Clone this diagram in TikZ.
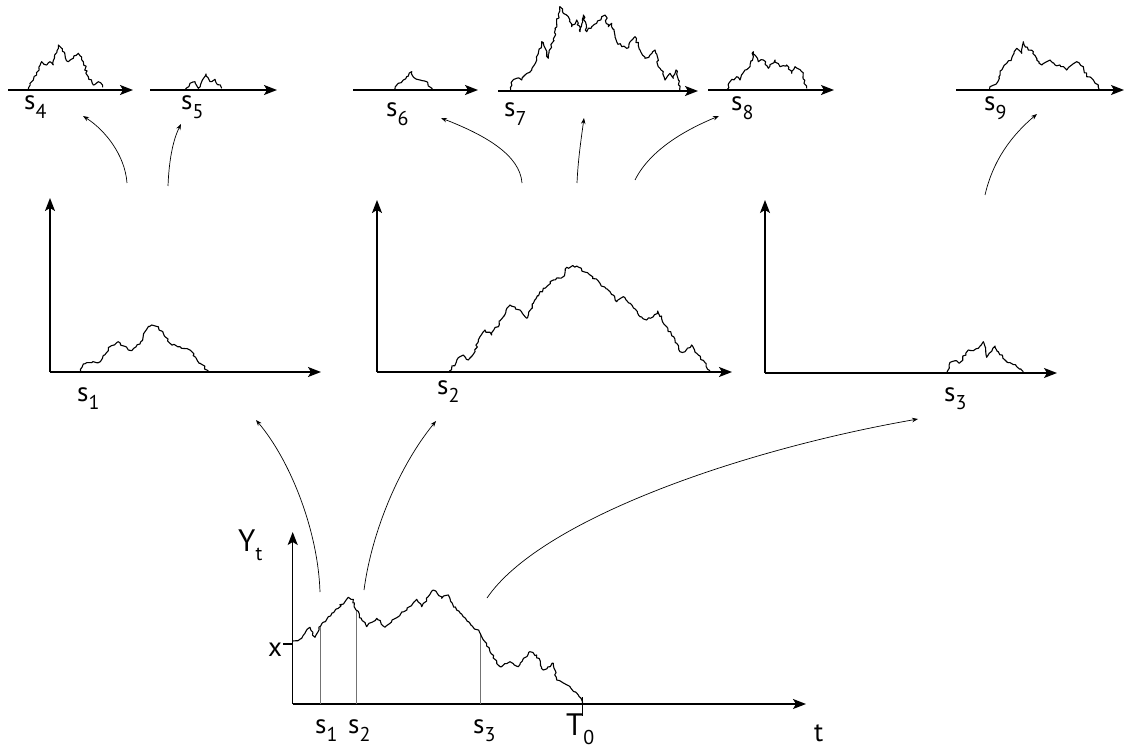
\documentclass[tikz,border=0pt]{standalone}
\usepackage{fontspec}
\setmainfont{PT Sans}
\usetikzlibrary{arrows.meta,decorations.pathmorphing}
\newcommand{\lbl}[2]{#1\raisebox{-0.3em}{\fontsize{20}{20}\selectfont #2}}
\begin{document}
\begin{tikzpicture}[x=1pt,y=-1pt,
  axis/.style={line width=1.5pt,-{Stealth[length=13pt,width=10pt,inset=3pt]}},
  conn/.style={line width=0.7pt,-{Stealth[length=6pt,width=4.5pt]}},
  bm/.style={line width=1.1pt,line join=round,decorate,decoration={random steps,segment length=2.5pt,amplitude=1.3pt}},
  vline/.style={line width=0.9pt,draw=black!55},
  lab/.style={font=\fontsize{27}{27}\selectfont,inner sep=0pt,anchor=base west},
  capl/.style={lab,font=\fontsize{31}{31}\selectfont}]
\pgfmathsetseed{7}
\useasboundingbox (0,0) rectangle (1131,751);

% ---------- top row axes ----------
\coordinate (a4s) at (8,90);   \coordinate (a4e) at (133,90);
\coordinate (a5s) at (150,90); \coordinate (a5e) at (277,90);
\coordinate (a6s) at (353,90); \coordinate (a6e) at (478,90);
\coordinate (a7s) at (498,91); \coordinate (a7e) at (698,91);
\coordinate (a8s) at (708,90); \coordinate (a8e) at (834,90);
\coordinate (a9s) at (956,90); \coordinate (a9e) at (1124,90);
\foreach \i in {4,...,9} \draw[axis] (a\i s) -- (a\i e);

% top paths
\draw[bm] (28.3,90) -- (30,83.3) -- (33.3,80) -- (36.7,75) -- (41.7,61.7) -- (46.7,65) -- (50,61.7) -- (53.3,65) -- (58.3,45) -- (65,55) -- (68.3,61.7) -- (73.3,58.3) -- (78.3,53.3) -- (83.3,61.7) -- (88.3,76.7) -- (93.3,85) -- (98.3,81.7) -- (102.7,87.3);
\draw[bm] (185,90) -- (190,83.3) -- (195,81.7) -- (198.3,88.3) -- (201.7,81.7) -- (206,74) -- (210,81.7) -- (215,79.3) -- (221.7,88.3);
\draw[bm] (395,90) -- (398.3,83.3) -- (403.3,80) -- (406.7,76.7) -- (411.7,71.7) -- (415,78.3) -- (420,80) -- (426.7,81.7) -- (431.7,90);
\draw[bm] (510.7,91) -- (511.7,81.7) -- (516.7,78.3) -- (521.7,80) -- (525,75) -- (531.7,70) -- (536.7,60) -- (541.7,41.7) -- (548.3,58.3) -- (553.3,40) -- (560,6.7) -- (563.3,13.3) -- (568.3,16.7) -- (571.7,26.7) -- (576.7,20) -- (580,31.7) -- (583.3,15) -- (586.7,31.7) -- (591.7,26.7) -- (596.7,23.3) -- (601.7,16.7) -- (605,15) -- (608.3,26.7) -- (611.7,23.3) -- (616.7,41.7) -- (621.7,46.7) -- (626.7,48.3) -- (635,36.7) -- (640,50) -- (645,58.3) -- (650,55) -- (655,50) -- (658.3,66.7) -- (663.3,71.7) -- (665,80) -- (670,73.3) -- (673.3,78.3) -- (676,70) -- (680,91);
\draw[bm] (726.7,90) -- (730,81.7) -- (736.7,76.7) -- (740,80) -- (745,70) -- (750,66.7) -- (753.3,51.7) -- (758.3,61.7) -- (763.3,60) -- (768.3,68.3) -- (775,60) -- (780,66.7) -- (786.7,65) -- (791.7,73.3) -- (795,66.7) -- (801.7,71.7) -- (806.7,88.3);
\draw[bm] (989.3,90) -- (990,86.7) -- (996.7,83.3) -- (1001.7,70) -- (1006.7,63.3) -- (1011.7,58.3) -- (1016.7,48.3) -- (1021.7,53.3) -- (1023.3,41.7) -- (1028.3,50) -- (1033.3,51.7) -- (1036.7,60) -- (1041.7,65) -- (1046.7,61.7) -- (1050,60) -- (1055,65) -- (1060,65) -- (1066.7,70) -- (1071.7,65) -- (1076.7,61.7) -- (1083.3,66.7) -- (1086.7,76.7) -- (1093.3,80) -- (1098.3,85) -- (1099.3,90);

\node[lab] (s4) at (24,110) {\lbl{s}{4}};
\node[lab] (s5) at (181,110) {\lbl{s}{5}};
\node[lab] (s6) at (386,117) {\lbl{s}{6}};
\node[lab] (s7) at (504,117) {\lbl{s}{7}};
\node[lab] (s8) at (731,111) {\lbl{s}{8}};
\node[lab] (s9) at (984,111) {\lbl{s}{9}};

% ---------- middle panels ----------
\coordinate (p1o) at (50,372);  \coordinate (p1y) at (50,198);  \coordinate (p1x) at (321,372);
\coordinate (p2o) at (377,372); \coordinate (p2y) at (377,200); \coordinate (p2x) at (732,372);
\coordinate (p3o) at (765,373); \coordinate (p3y) at (765,200); \coordinate (p3x) at (1057,373);
\foreach \i in {1,2,3} {\draw[axis] (p\i o) -- (p\i y); \draw[axis] (p\i o) -- (p\i x);}

\draw[bm] (80.7,372) -- (83.3,364) -- (91.7,362.7) -- (98.3,362.7) -- (110,346.7) -- (118.3,341.7) -- (128.3,350) -- (131.7,350.7) -- (140,344) -- (145,331.7) -- (151.7,325) -- (158.3,326.7) -- (170,343.3) -- (180,346.7) -- (190,350) -- (200,363.3) -- (208.3,370.7);
\draw[bm] (449.3,371) -- (460,356.7) -- (463.3,355) -- (468.3,360) -- (475,351.7) -- (480,336.7) -- (485,330) -- (491.7,335) -- (503.3,316.7) -- (510,305) -- (520,310) -- (526.7,318.3) -- (533.3,303.3) -- (543.3,288.3) -- (553.3,280) -- (563.3,276.7) -- (566.7,267.3) -- (576.7,266) -- (590,275) -- (600,283.3) -- (610,291.7) -- (616.7,301.7) -- (623.3,296.7) -- (630,303.3) -- (640,316.7) -- (646.7,320) -- (653.3,316.7) -- (657.7,311) -- (666.7,326.7) -- (676.7,343.3) -- (680,351.7) -- (685,351.7) -- (691.7,345) -- (698.3,355) -- (710,370.7);
\draw[bm] (946.7,373) -- (951.7,361.7) -- (955,360.7) -- (959.3,363.3) -- (968.3,350) -- (973.3,350.7) -- (978.3,348.3) -- (983.3,341.7) -- (986.7,357.3) -- (995,346) -- (998.3,351.7) -- (1005,360) -- (1008.3,362.7) -- (1016.7,366.7) -- (1023.3,371.7);

\node[lab] (m1) at (77,401) {\lbl{s}{1}};
\node[lab] (m2) at (437,394) {\lbl{s}{2}};
\node[lab] (m3) at (944,401) {\lbl{s}{3}};

% ---------- bottom plot ----------
\coordinate (bo) at (292.7,704); \coordinate (by) at (292.7,532); \coordinate (bx) at (806,704);
\draw[axis] (bo) -- (by);
\draw[axis] (bo) -- (bx);
\draw[line width=1.2pt] (283,644) -- (292.7,644);
\draw[vline] (320.7,704) -- (320.7,626);
\draw[vline] (356,704) -- (356,610);
\draw[vline] (480,704) -- (480,633);
\draw[line width=1.2pt] (582.3,697) -- (582.3,716);
\draw[bm] (292.7,641) -- (301.7,638.3) -- (310,627.3) -- (315,637.3) -- (320.7,626) -- (328.3,616.7) -- (338.3,608.3) -- (348.3,597.3) -- (353.3,599.3) -- (356,610) -- (366.7,626.7) -- (376.7,618.3) -- (385,627.3) -- (400,615) -- (416.7,599.3) -- (421.7,606.7) -- (433.3,590) -- (441.7,598.3) -- (448.3,595) -- (456.7,610) -- (470,623.3) -- (480,633) -- (490,651.7) -- (500,666.7) -- (510,661.7) -- (518.3,666.7) -- (530,651.7) -- (536.7,655) -- (543.3,670) -- (553.3,663.3) -- (556.7,680) -- (570,686.7) -- (578.3,695) -- (582.3,704);

\node[capl] (Yt) at (238,551) {\lbl{Y}{t}};
\node[lab] (xl) at (268,656) {x};
\node[lab] (tl) at (814,741) {t};
\node[lab] (b1) at (315,733) {\lbl{s}{1}};
\node[lab] (b2) at (348,733) {\lbl{s}{2}};
\node[lab] (b3) at (473,733) {\lbl{s}{3}};
\node[capl] (T0) at (566,735) {\lbl{T}{0}};

% ---------- connectors ----------
\coordinate (c1a) at (127,183);  \coordinate (c1b) at (83,116);
\coordinate (c2a) at (168,186);  \coordinate (c2b) at (181,124);
\coordinate (c3a) at (522,183);  \coordinate (c3b) at (441,118);
\coordinate (c4a) at (577,183);  \coordinate (c4b) at (584,118);
\coordinate (c5a) at (635,180);  \coordinate (c5b) at (719,116);
\coordinate (c6a) at (985,195);  \coordinate (c6b) at (1037,114);
\draw[conn] (c1a) .. controls (125,155) and (105,130) .. (c1b);
\draw[conn] (c2a) .. controls (169,160) and (173,140) .. (c2b);
\draw[conn] (c3a) .. controls (520,155) and (485,135) .. (c3b);
\draw[conn] (c4a) .. controls (578,160) and (581,140) .. (c4b);
\draw[conn] (c5a) .. controls (650,150) and (685,130) .. (c5b);
\draw[conn] (c6a) .. controls (993,160) and (1012,135) .. (c6b);

\coordinate (d1a) at (320,592);  \coordinate (d1b) at (256,420);
\coordinate (d2a) at (364,590);  \coordinate (d2b) at (436,421);
\coordinate (d3a) at (487,598);  \coordinate (d3b) at (918,419);
\draw[conn] (d1a) .. controls (318,530) and (290,460) .. (d1b);
\draw[conn] (d2a) .. controls (372,530) and (400,465) .. (d2b);
\draw[conn] (d3a) .. controls (540,520) and (740,450) .. (d3b);
\end{tikzpicture}
\end{document}
